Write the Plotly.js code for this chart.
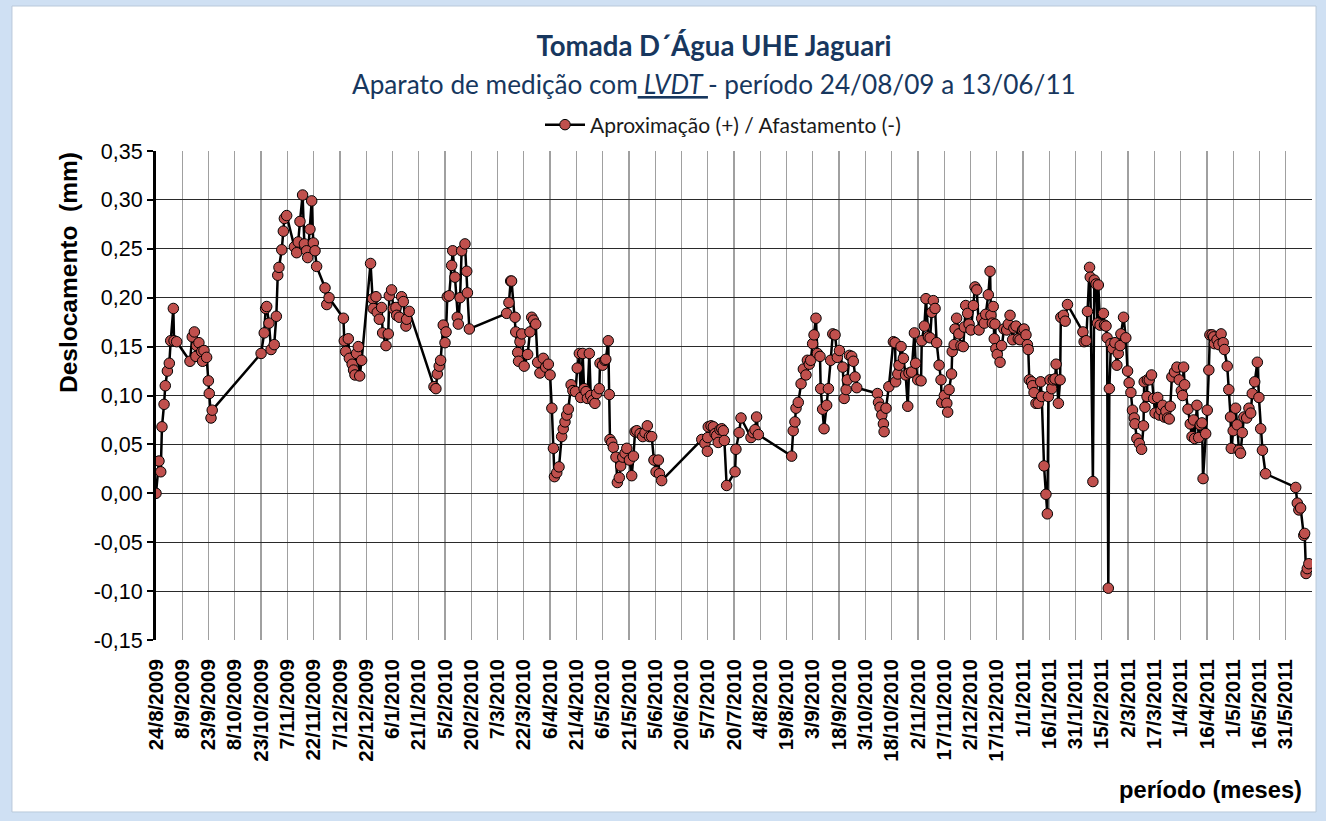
<!DOCTYPE html>
<html>
<head>
<meta charset="utf-8">
<script src="https://cdn.plot.ly/plotly-3.0.1.min.js"></script>
<style>
html,body{margin:0;padding:0;background:#ffffff;}
#chart{width:1326px;height:821px;}
</style>
</head>
<body>
<div id="chart"></div>
<script>
// Days elapsed since 24/8/2009 (read from the x-axis)
const dayOffset = [
0,1.7,2.7,3.4,4.6,5.3,6.5,7.6,8.4,9.9,10.3,11.8,
19.4,20.7,21.9,22.8,23.2,24.5,26.1,26.6,27.4,28.9,29.9,30.4,31.4,32.1,
60,61.8,62.6,63.2,64.5,65.7,67.5,68.7,69.5,70.2,71.8,72.7,73.3,74.6,
79,80.3,81.2,82.2,83.7,84.7,86,86.6,87.9,88.9,89.8,90.8,91.7,96.5,97.5,98.8,
107,107.5,108.3,109.8,110.4,112,112.8,113.6,114.5,115.5,116.3,117.4,
122.5,123.7,124,125.6,126.3,127.5,128.8,129.4,131.3,132.6,133.2,134.5,135.5,137,137.4,138.9,140.2,141.2,142.7,143.1,144.6,
158.7,159.8,160.6,161.7,162.5,164,165,165.6,166.3,167.4,168.8,169.4,170.7,172,172.6,173.6,174.5,176.4,177.4,177.8,178.9,
200.2,201.5,202.5,203,205,205.4,206.5,207,207.8,208.8,210.2,212.2,213.5,214.5,215.5,216.8,217.9,219.2,221.1,222.5,224,225,
226,226.9,227.5,228.8,230.1,231.6,232.5,233.5,234.5,235.4,237,238,239.5,240.5,241.7,242.5,243.6,244.4,245.5,246.3,247.4,
248.2,249.4,250.6,251.6,253.1,253.5,255,256.3,256.8,258.2,258.8,259.2,260.2,261.1,262.6,263.4,264.5,265.3,266.5,267.8,268.8,
270.3,271.6,272.6,273.5,274.5,276.4,277.9,279.2,280.5,281.7,283,284.3,285.5,286.8,287.4,288.7,
311.6,313.4,314.8,315,315.3,316.9,318.2,319.2,320.1,321,322,323,323.9,324.5,325.8,330.6,331.1,332.9,334,339.7,341,342,342.9,343.9,
362.9,363.8,364.8,365.4,366.7,368.3,369.6,371.1,371.9,373,373.8,374.9,375.7,376.8,377.6,379.1,379.5,380.6,381.4,382.9,383.9,
385.2,386.4,387.7,389,390.2,392.1,392.9,394,394.7,395.9,397.2,398.1,399.1,400.1,
411.9,412.5,413.4,414.4,415.3,415.7,416.8,418.4,
421,422,422.3,423.5,424.2,425.4,426.7,428,429.2,429.9,431.4,433,433.7,434.9,436.8,437.2,438.7,439.6,441,442,442.9,443.8,444.8,
445.7,447.1,448.2,448.6,450.1,451.5,452,452.8,454.2,454.6,455.7,456.2,457.1,458.4,459.6,460.9,461.5,462.3,463.4,464.2,465.3,
466.7,467.6,468.6,469.9,471.4,472.9,473.7,475.2,476.2,476.7,477.5,478,478.6,479,479.5,480.3,481.9,482.8,484.1,485.7,486.6,
487.6,489.1,489.8,491,492.3,493.3,494.8,495.6,496.7,497.5,498,498.6,499.9,500.5,501.3,502.4,503.7,505.1,505.7,507,508.1,508.9,
509.5,510.4,511.4,512.3,513.3,513.9,515.2,516.2,516.6,518.1,519.1,520.4,
529.2,529.9,531.1,531.8,533,533.4,534.9,535.7,536.7,537.5,538,539,540.9,541.5,542.4,543,543.7,544.3,545.2,546.1,547.5,548.6,
549.4,550.5,550.9,552.4,553.7,554.7,555.6,556.6,557.5,558.5,558.9,560,561.4,562.7,563.8,564.2,564.6,565.8,566,567.1,568.4,
569.6,570.4,571.9,572.8,573.8,574.7,575.7,576.6,577.6,578.5,579.1,580,581.5,582.9,584.2,585.4,586.1,586.7,587.3,589.2,590.5,
591.5,592.4,593,594.3,595.3,596.2,597.2,597.8,
599.3,600.2,601.1,601.7,603,603.9,604.3,605.8,606.8,608.1,609.3,610,611.6,612.5,613.5,613.9,615,616.4,617.3,618.3,619.2,
620.2,621.1,622.7,624,625,625.9,627.3,628.8,629.7,630.7,631.7,633.5,
650.7,651.6,652.5,653.5,655.3,655.8,656.6,657.3,658.2
];

// Deslocamento (mm), same order
const displacement = [
0.000,0.033,0.022,0.068,0.091,0.110,0.125,0.133,0.156,0.189,0.156,0.155,
0.135,0.160,0.165,0.140,0.151,0.154,0.145,0.135,0.146,0.139,0.115,0.102,0.077,0.085,
0.143,0.164,0.189,0.191,0.174,0.147,0.152,0.181,0.223,0.231,0.249,0.268,0.281,0.284,
0.252,0.246,0.257,0.278,0.305,0.255,0.248,0.241,0.270,0.299,0.256,0.248,0.232,0.210,0.193,0.200,
0.179,0.156,0.145,0.158,0.138,0.132,0.126,0.121,0.143,0.150,0.120,0.136,
0.235,0.199,0.189,0.201,0.185,0.178,0.190,0.164,0.151,0.163,0.202,0.208,0.189,0.190,0.182,0.180,0.201,0.196,0.171,0.178,0.186,
0.109,0.107,0.122,0.130,0.136,0.172,0.154,0.165,0.201,0.202,0.233,0.248,0.221,0.180,0.173,0.200,0.248,0.255,0.227,0.205,0.168,
0.184,0.195,0.217,0.217,0.180,0.165,0.144,0.135,0.155,0.163,0.130,0.142,0.165,0.180,0.177,0.173,0.134,0.123,0.138,0.129,0.132,0.121,
0.087,0.046,0.017,0.021,0.027,0.058,0.066,0.073,0.080,0.086,0.111,0.105,0.104,0.128,0.143,0.098,0.143,0.107,0.104,0.097,0.143,
0.100,0.095,0.092,0.102,0.107,0.133,0.131,0.136,0.137,0.156,0.101,0.055,0.052,0.047,0.037,0.011,0.016,0.028,0.037,0.041,0.046,
0.034,0.018,0.038,0.063,0.064,0.061,0.058,0.062,0.069,0.058,0.058,0.034,0.022,0.034,0.020,0.013,
0.055,0.051,0.043,0.057,0.068,0.069,0.068,0.061,0.059,0.052,0.065,0.066,0.064,0.054,0.008,0.022,0.045,0.062,0.077,0.057,0.062,0.065,0.078,0.060,
0.038,0.064,0.073,0.087,0.093,0.112,0.127,0.121,0.136,0.132,0.136,0.153,0.162,0.179,0.143,0.140,0.107,0.086,0.066,0.090,0.107,
0.136,0.163,0.162,0.139,0.146,0.129,0.097,0.106,0.116,0.141,0.140,0.135,0.119,0.108,
0.102,0.093,0.088,0.080,0.071,0.063,0.087,0.109,
0.155,0.154,0.114,0.122,0.131,0.150,0.138,0.121,0.089,0.123,0.124,0.164,0.133,0.116,0.115,0.156,0.171,0.199,0.160,0.159,0.185,0.197,0.189,
0.154,0.131,0.116,0.093,0.100,0.092,0.083,0.106,0.122,0.145,0.152,0.168,0.179,0.163,0.151,0.150,0.170,0.192,0.184,0.173,0.167,
0.192,0.211,0.208,0.167,0.179,0.174,0.183,0.203,0.227,0.182,0.174,0.191,0.158,0.173,0.148,0.142,0.134,0.151,0.168,0.167,0.173,
0.182,0.157,0.169,0.171,0.158,0.157,0.167,0.168,0.162,0.152,0.147,0.116,0.114,0.110,0.103,0.092,0.092,0.114,0.099,0.028,-0.001,-0.021,
0.099,0.116,0.107,0.116,0.117,0.132,0.092,0.116,0.180,0.182,0.176,0.193,
0.165,0.155,0.156,0.186,0.231,0.221,0.012,0.218,0.214,0.174,0.213,0.172,0.184,0.172,0.171,0.159,-0.097,0.107,0.153,0.148,0.154,0.131,
0.143,0.151,0.163,0.180,0.159,0.125,0.113,0.103,0.085,0.077,0.071,0.056,0.051,0.045,0.069,0.114,0.088,0.099,0.116,0.116,0.121,
0.097,0.082,0.098,0.080,0.085,0.090,0.078,0.084,0.077,0.076,0.089,0.119,0.124,0.129,0.116,0.105,0.100,0.129,0.111,0.086,0.071,
0.058,0.075,0.056,0.090,0.057,0.070,0.072,0.015,
0.061,0.085,0.126,0.162,0.162,0.160,0.153,0.157,0.152,0.163,0.154,0.147,0.130,0.106,0.078,0.046,0.064,0.087,0.070,0.044,0.041,
0.062,0.078,0.077,0.087,0.082,0.102,0.114,0.134,0.098,0.066,0.044,0.020,
0.006,-0.010,-0.017,-0.015,-0.043,-0.041,-0.082,-0.077,-0.072
];

const xTickLabels = ['24/8/2009','8/9/2009','23/9/2009','8/10/2009','23/10/2009','7/11/2009','22/11/2009','7/12/2009',
'22/12/2009','6/1/2010','21/1/2010','5/2/2010','20/2/2010','7/3/2010','22/3/2010','6/4/2010','21/4/2010','6/5/2010',
'21/5/2010','5/6/2010','20/6/2010','5/7/2010','20/7/2010','4/8/2010','19/8/2010','3/9/2010','18/9/2010','3/10/2010',
'18/10/2010','2/11/2010','17/11/2010','2/12/2010','17/12/2010','1/1/2011','16/1/2011','31/1/2011','15/2/2011','2/3/2011',
'17/3/2011','1/4/2011','16/4/2011','1/5/2011','16/5/2011','31/5/2011'];
const xAxisEnd = '15/6/2011';

const yTickValues = [-0.15,-0.10,-0.05,0.00,0.05,0.10,0.15,0.20,0.25,0.30,0.35];
const yTickLabels = ['-0,15','-0,10','-0,05','0,00','0,05','0,10','0,15','0,20','0,25','0,30','0,35'];

const seriesName = 'Aproximação (+) / Afastamento (-)';

// ---- helpers ----
const START = Date.UTC(2009,7,24);
function dayToDate(d){ return new Date(START + d*86400000).toISOString().slice(0,19).replace('T',' '); }
function labelToDate(s){ const p=s.split('/'); return new Date(Date.UTC(+p[2],+p[1]-1,+p[0])).toISOString().slice(0,10); }

const xs = dayOffset.map(dayToDate);
const tickvals = xTickLabels.map(labelToDate).concat([labelToDate(xAxisEnd)]);
const ticktext = xTickLabels.concat(['']);
const xRange = [labelToDate(xTickLabels[0]), labelToDate(xAxisEnd)];

const ARIAL = 'Liberation Sans, Arial, sans-serif';
const CAL = 'Lato, Carlito, Calibri, sans-serif';

const trace = {
  x: xs, y: displacement, type:'scatter', mode:'lines+markers', name: seriesName,
  line:{color:'#000000', width:2.5},
  marker:{symbol:'circle', size:10.5, color:'#c0504d', line:{color:'#000000', width:1}},
  xaxis:'x', yaxis:'y'
};

const layout = {
  width:1326, height:821,
  margin:{l:156, r:14, t:151, b:181},
  paper_bgcolor:'#cfe0f3',
  plot_bgcolor:'#ffffff',
  showlegend:true,
  legend:{orientation:'h', x:(723-156)/1156, xanchor:'center', y:(640-125)/489, yanchor:'middle',
          font:{family:CAL, size:21, color:'#1a1a1a'}, bgcolor:'rgba(0,0,0,0)', itemwidth:40},
  title:{text:'<b>Tomada D´Água UHE Jaguari</b>', xref:'paper', x:(714-156)/1156, xanchor:'center',
         y:1-46/821, yanchor:'middle',
         font:{family:CAL, size:27.6, color:'#17375e'}},
  xaxis:{
    type:'date', range:xRange, tickmode:'array', tickvals:tickvals, ticktext:ticktext,
    tickangle:-90, tickfont:{family:ARIAL, size:20.5, color:'#000000', weight:'bold'},
    showgrid:true, gridcolor:'#a0a0a0', gridwidth:1.3,
    showline:false, zeroline:false, ticks:'', ticklabelstandoff:14
  },
  xaxis2:{
    type:'date', range:xRange, overlaying:'x', anchor:'free', position:0.3,
    tickmode:'array', tickvals:tickvals, showticklabels:false,
    ticks:'outside', ticklen:5, tickwidth:2, tickcolor:'#000000',
    showline:true, linecolor:'#000000', linewidth:3, showgrid:false, zeroline:false
  },
  yaxis:{
    range:[-0.15,0.35], tickmode:'array', tickvals:yTickValues, ticktext:yTickLabels,
    tickfont:{family:ARIAL, size:21.5, color:'#000000'},
    showgrid:true, gridcolor:'#2a2a2a', gridwidth:1,
    showline:true, linecolor:'#000000', linewidth:3,
    ticks:'outside', ticklen:6, tickwidth:2, tickcolor:'#000000',
    zeroline:false
  },
  shapes:[
    {type:'rect', xref:'paper', yref:'paper', x0:-0.1246, x1:1.0035, y0:-0.3517, y1:1.2965,
     fillcolor:'#ffffff', line:{color:'#b9c9da', width:1}, layer:'below'}
  ],
  annotations:[
    {text:'Aparato de medição com<u><i> LVDT </i></u>- período 24/08/09 a 13/06/11', xref:'paper', yref:'paper',
     x:(714-156)/1156, y:(640-84)/489, xanchor:'center', yanchor:'middle', showarrow:false,
     font:{family:CAL, size:26.2, color:'#17375e'}},
    {text:'<b>Deslocamento  (mm)</b>', xref:'paper', yref:'paper', x:(68-156)/1156, y:(640-273)/489,
     textangle:-90, xanchor:'center', yanchor:'middle', showarrow:false,
     font:{family:ARIAL, size:24.5, color:'#000000'}},
    {text:'<b>período (meses)</b>', xref:'paper', yref:'paper', x:(1210-156)/1156, y:(640-790)/489,
     xanchor:'center', yanchor:'middle', showarrow:false,
     font:{family:ARIAL, size:23.7, color:'#000000'}}
  ]
};

Plotly.newPlot('chart', [trace], layout, {displayModeBar:false, staticPlot:true});
</script>
</body>
</html>
